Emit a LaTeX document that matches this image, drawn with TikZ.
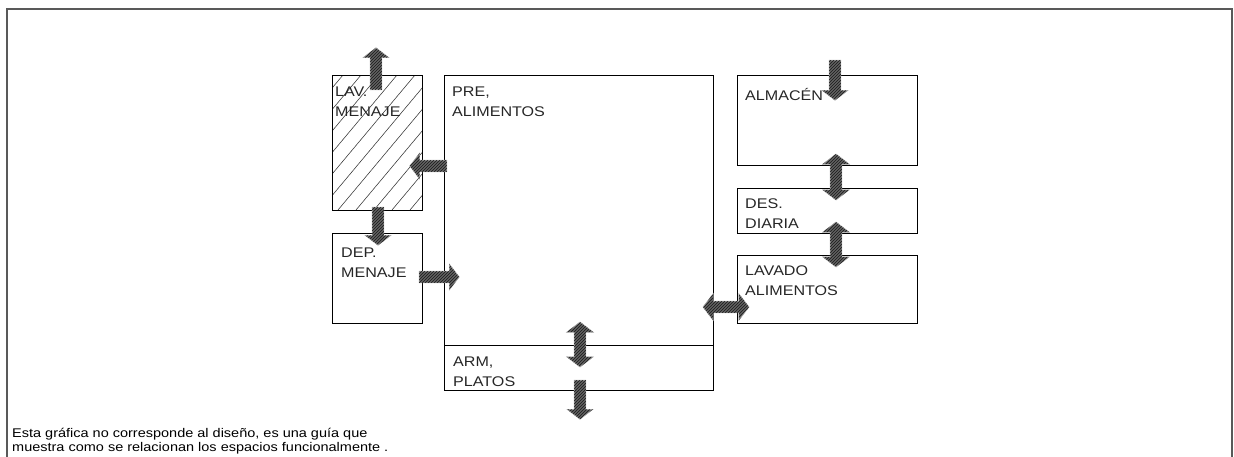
\documentclass[tikz,border=0pt]{standalone}
\usepackage{fontspec}
\setmainfont{Liberation Sans}[FakeStretch=1.15]
\usetikzlibrary{shapes.arrows,patterns}
\tikzset{
  room/.style={draw=black, line width=0.9pt, anchor=north west, inner sep=0pt},
  lbl/.style={anchor=north west, inner sep=0pt, align=left, font=\fontsize{14}{20.5}\selectfont, text=black!85},
  blk/.style={draw=gray!70, line width=0.6pt, fill=black!62, inner sep=5.5pt,
    postaction={pattern=north east lines, pattern color=black!90}},
  sarrow/.style={blk, single arrow, single arrow head extend=7pt, single arrow tip angle=105},
  darrow/.style={blk, double arrow, double arrow head extend=7.5pt, double arrow tip angle=105},
}
\begin{document}
\begin{tikzpicture}[x=1pt,y=-1pt]
\useasboundingbox (0,0) rectangle (1234,456);
% outer frame
\draw[gray!70!black, line width=1.6pt] (7,457) -- (7,9) -- (1232,9) -- (1232,457);
% rooms
\node[room, minimum width=90pt, minimum height=135pt] (lav) at (332,75) {};
\begin{scope}
  \clip (332,75) rectangle (422,210);
  \foreach \c in {212,230,...,452} {
    \draw[black!80, line width=0.55pt] (\c,210) -- ++(113,-135);
  }
\end{scope}
\draw[line width=0.9pt] (lav.north west) rectangle (lav.south east);
\node[room, minimum width=90pt, minimum height=90pt] (dep) at (332,233) {};
\node[room, minimum width=269pt, minimum height=315pt] (pre) at (444,75) {};
\draw[line width=0.9pt] (444,345) coordinate (armw) -- (713,345) coordinate (arme);
\node[room, minimum width=180pt, minimum height=90pt] (alm) at (737,75) {};
\node[room, minimum width=180pt, minimum height=45pt] (des) at (737,188) {};
\node[room, minimum width=180pt, minimum height=68pt] (lava) at (737,255) {};
% labels
\node[lbl] (tlav) at (335,86.5) {LAV.\\MENAJE};
\node[lbl] (tpre) at (452,86.5) {PRE,\\ALIMENTOS};
\node[lbl] (tdep) at (341,247.5) {DEP.\\MENAJE};
\node[lbl] (tarm) at (453,356.5) {ARM,\\PLATOS};
\node[lbl] (talm) at (745,88) {ALMACÉN};
\node[lbl] (tdes) at (745,198.5) {DES.\\DIARIA};
\node[lbl] (tlava) at (745,265.5) {LAVADO\\ALIMENTOS};
% arrows
\node[sarrow, minimum height=42pt, shape border rotate=90] (a1) at (376,71) {};
\node[sarrow, minimum height=37pt, shape border rotate=180] (a2) at (430.5,166) {};
\node[sarrow, minimum height=38pt, shape border rotate=270] (a3) at (378,224) {};
\node[sarrow, minimum height=40pt, shape border rotate=0] (a4) at (437,277) {};
\node[darrow, minimum height=45pt, shape border rotate=90] (a5) at (580,344.5) {};
\node[sarrow, minimum height=39pt, shape border rotate=270] (a6) at (580,397.5) {};
\node[darrow, minimum height=46pt, shape border rotate=0] (a7) at (726,307) {};
\node[sarrow, minimum height=40pt, shape border rotate=270] (a8) at (835,78) {};
\node[darrow, minimum height=46pt, shape border rotate=90] (a9) at (836,177) {};
\node[darrow, minimum height=45pt, shape border rotate=90] (a10) at (836,244.5) {};
% caption
\node[anchor=north west, inner sep=0pt, align=left, font=\fontsize{12.6}{14}\selectfont] (cap) at (12,428)
  {Esta gráfica no corresponde al diseño, es una guía que\\muestra como se relacionan los espacios funcionalmente .};
\end{tikzpicture}
\end{document}
